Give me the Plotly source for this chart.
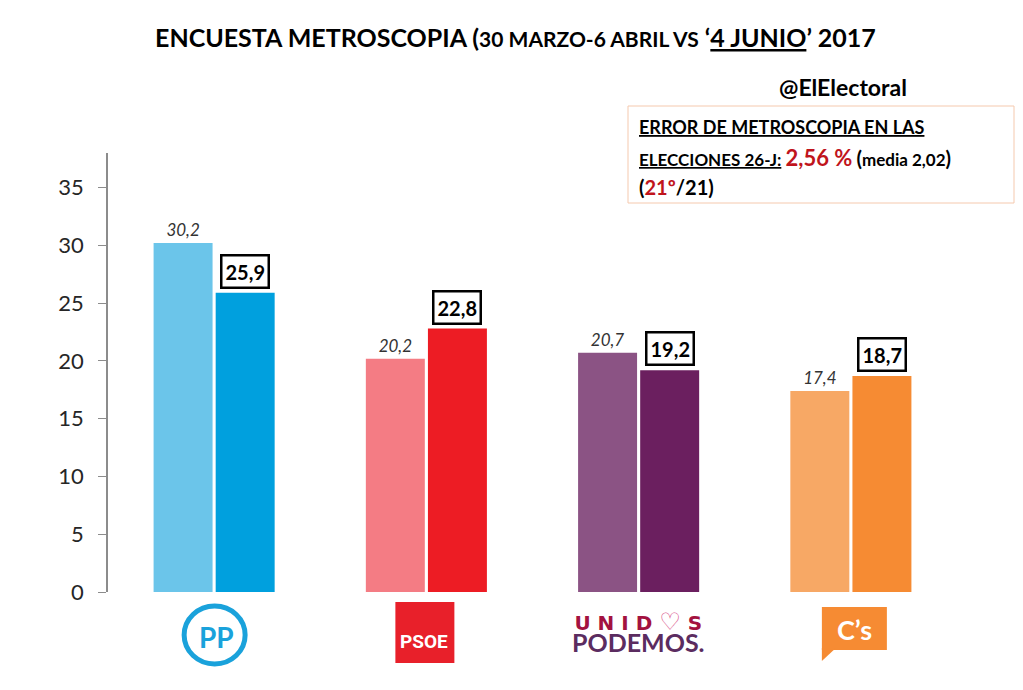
import plotly.graph_objects as go

partidos = ["PP", "PSOE", "UNIDOS PODEMOS", "C's"]
abril = [30.2, 20.2, 20.7, 17.4]
junio = [25.9, 22.8, 19.2, 18.7]
etiquetas_abril = ["30,2", "20,2", "20,7", "17,4"]
etiquetas_junio = ["25,9", "22,8", "19,2", "18,7"]
y_ticks = [0, 5, 10, 15, 20, 25, 30, 35]

colores_abril = ["#6BC5EA", "#F47C84", "#8B5384", "#F7A865"]
colores_junio = ["#00A0DE", "#ED1C24", "#6B1F5F", "#F68B33"]

FUENTE = "Lato"


def px_x(p):
    # pixel horizontal de la imagen -> coordenada paper
    return (p - 108) / 849


def px_y(p):
    return (592 - p) / 439


fig = go.Figure()
fig.add_trace(go.Bar(
    x=partidos, y=abril, marker_color=colores_abril, marker_line_width=0,
    text=etiquetas_abril, texttemplate="<i>%{text}</i>", textposition="outside",
    textfont=dict(family=FUENTE, size=17, color="#333333"), cliponaxis=False,
))
fig.add_trace(go.Bar(
    x=partidos, y=junio, marker_color=colores_junio, marker_line_width=0,
))

# etiquetas enmarcadas de la segunda serie
for i, (v, t) in enumerate(zip(junio, etiquetas_junio)):
    fig.add_annotation(
        x=i, y=v, xref="x", yref="y", text="<b>" + t + "</b>",
        showarrow=False, xshift=31, yshift=4, yanchor="bottom",
        font=dict(family=FUENTE, size=20, color="black"),
        bordercolor="black", borderwidth=2.5, borderpad=3, bgcolor="white",
    )

fig.update_layout(
    width=1015, height=682,
    margin=dict(l=100, r=66, t=145, b=98),
    paper_bgcolor="white", plot_bgcolor="white",
    showlegend=False, barmode="group", bargap=0.415, bargroupgap=0.05,
    xaxis=dict(showticklabels=False, showline=False, showgrid=False, zeroline=False),
    yaxis=dict(range=[0, 38], tickvals=y_ticks, showgrid=False, zeroline=False,
               showline=True, linecolor="#8C8C8C", linewidth=1.5,
               ticks="outside", ticklen=8, tickcolor="#8C8C8C", ticklabelstandoff=10,
               tickfont=dict(family=FUENTE, size=22, color="#262626")),
)

# titulo
fig.add_annotation(
    x=px_x(515), y=px_y(37), xref="paper", yref="paper", xanchor="center", yanchor="middle",
    text=("<b>ENCUESTA METROSCOPIA (<span style='font-size:21px'>30 MARZO-6 ABRIL VS</span> "
          "\u2018<u>4 JUNIO</u>\u2019 2017</b>"),
    showarrow=False, font=dict(family=FUENTE, size=25, color="black"),
)

# firma y recuadro
fig.add_annotation(
    x=px_x(843), y=px_y(87), xref="paper", yref="paper", xanchor="center", yanchor="middle",
    text="<b>@ElElectoral</b>", showarrow=False,
    font=dict(family=FUENTE, size=23, color="black"),
)
fig.add_shape(type="rect", xref="paper", yref="paper",
              x0=px_x(628), x1=px_x(1014), y0=px_y(203), y1=px_y(106),
              line=dict(color="#F5C9AE", width=1), fillcolor="white")
lineas_error = [
    "<b><u>ERROR DE METROSCOPIA EN LAS</u></b>",
    ("<b><u>ELECCIONES 26-J:</u> <span style='color:#C0141C;font-size:22px'>2,56 %</span> "
     "<span style='font-size:20px'>(</span>media 2,02<span style='font-size:20px'>)</span></b>"),
    "<b><span style='font-size:20px'>(<span style='color:#C0141C'>21\u00ba</span>/21)</span></b>",
]
for k, linea in enumerate(lineas_error):
    fig.add_annotation(
        x=px_x(637), y=px_y(127 + 30 * k), xref="paper", yref="paper",
        xanchor="left", yanchor="middle", align="left", showarrow=False,
        text=linea, font=dict(family=FUENTE, size=18 if k == 0 else 17, color="black"),
    )

# logos aproximados de los partidos
fig.add_shape(type="circle", xref="x", xsizemode="pixel", xanchor=0, x0=-30, x1=31,
              yref="paper", ysizemode="pixel", yanchor=0, y0=-72, y1=-14,
              line=dict(color="#1AA2DB", width=5))
fig.add_annotation(x=0, xref="x", xshift=2, y=0, yref="paper", yshift=-45, yanchor="middle",
                   text="<b>PP</b>", showarrow=False,
                   font=dict(family=FUENTE, size=28, color="#1AA2DB"))
fig.add_shape(type="rect", xref="x", xsizemode="pixel", xanchor=1, x0=-31, x1=28,
              yref="paper", ysizemode="pixel", yanchor=0, y0=-71, y1=-10,
              fillcolor="#E8202A", line_width=0)
fig.add_annotation(x=1, xref="x", xshift=-2, y=0, yref="paper", yshift=-49, yanchor="middle",
                   text="<b>PSOE</b>", showarrow=False,
                   font=dict(family="Roboto", size=19, color="white"))
fig.add_annotation(x=2, xref="x", y=0, yref="paper", yshift=-40, yanchor="middle",
                   text=("<b><span style='font-family:DejaVu Sans;font-size:20px;color:#A3123F'>"
                         "U N I D <span style='color:#D9548A;font-size:24px'>\u2661</span> S</span>"
                         "<br><span style='font-size:25px;color:#5B2C60'>PODEMOS.</span></b>"),
                   showarrow=False, font=dict(family=FUENTE, size=17, color="#5B2C60"))
fig.add_shape(type="rect", xref="x", xsizemode="pixel", xanchor=3, x0=-29, x1=36,
              yref="paper", ysizemode="pixel", yanchor=0, y0=-58, y1=-15,
              fillcolor="#F68B33", line_width=0)
fig.add_shape(type="path", xref="x", xsizemode="pixel", xanchor=3,
              yref="paper", ysizemode="pixel", yanchor=0,
              path="M -29 -56 L -15 -56 L -29 -69 Z", fillcolor="#F68B33", line_width=0)
fig.add_annotation(x=3, xref="x", xshift=4, y=0, yref="paper", yshift=-37, yanchor="middle",
                   text="<b>C\u2019s</b>", showarrow=False,
                   font=dict(family=FUENTE, size=27, color="white"))

fig.write_html("out.html")
